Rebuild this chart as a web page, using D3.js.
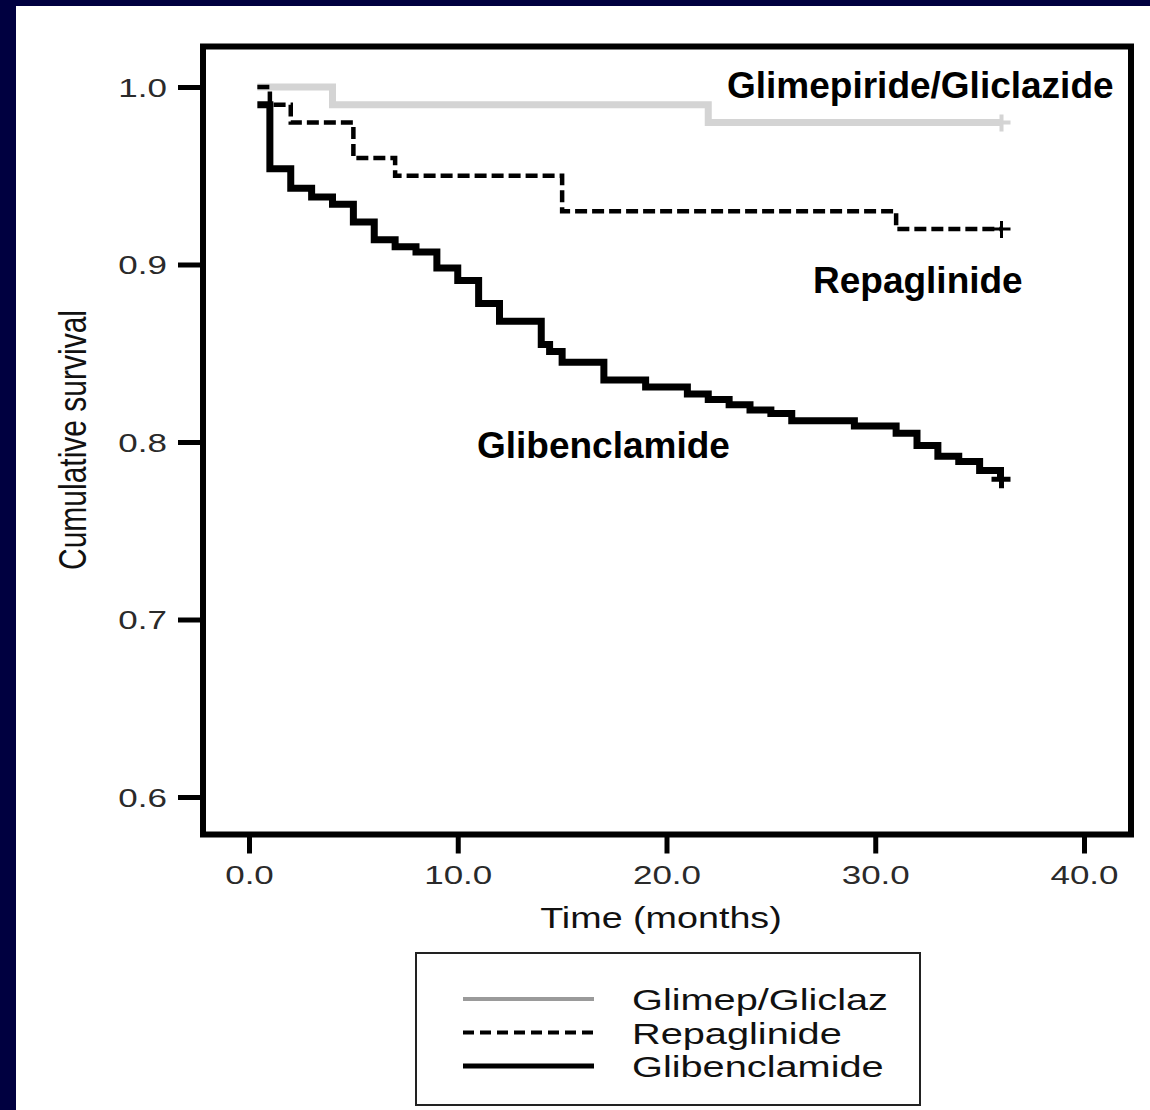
<!DOCTYPE html>
<html>
<head>
<meta charset="utf-8">
<script src="https://cdn.jsdelivr.net/npm/d3@7/dist/d3.min.js"></script>
<style>
  html, body { margin: 0; padding: 0; background: #000040; }
  svg { display: block; }
</style>
</head>
<body>
<svg id="chart" width="1150" height="1110"></svg>
<script>
// Kaplan–Meier survival estimates per treatment group (time in months)
const groups = ["Glimep/Gliclaz", "Repaglinide", "Glibenclamide"];

const glimepTime = [0.4, 4, 22, 36];
const glimepSurv = [1.0, 0.99, 0.98, 0.98];

const repagTime = [0.4, 1, 2, 5, 7, 15, 31, 36];
const repagSurv = [1.0, 0.99, 0.98, 0.96, 0.95, 0.93, 0.92, 0.92];

const glibenTime = [0.4, 1, 2, 3, 4, 5, 6, 7, 8, 9, 10, 11, 12, 14, 14.4, 15, 17,
                    19, 21, 22, 23, 24, 25, 26, 29, 31, 32, 33, 34, 35, 36];
const glibenSurv = [0.99, 0.954, 0.943, 0.938, 0.934, 0.924, 0.914, 0.910, 0.907, 0.898,
                    0.891, 0.878, 0.868, 0.855, 0.851, 0.845, 0.835, 0.831, 0.827, 0.824,
                    0.821, 0.818, 0.816, 0.812, 0.809, 0.805, 0.798, 0.792, 0.789, 0.784, 0.779];

const timeTicks = [0, 10, 20, 30, 40];
const survTicks = [0.6, 0.7, 0.8, 0.9, 1.0];

const curveLabels = ["Glimepiride/Gliclazide", "Repaglinide", "Glibenclamide"];

const svg = d3.select("#chart");

// white slide area
svg.append("rect").attr("x", 16).attr("y", 6).attr("width", 1134).attr("height", 1104).attr("fill", "#ffffff");

const x = d3.scaleLinear().domain([0, 40]).range([249, 1084]);
const y = d3.scaleLinear().domain([0.6, 1.0]).range([797, 87]);

const frame = { left: 203, top: 46.5, right: 1131, bottom: 834.5 };
const FONT = "'Liberation Sans', Arial, Helvetica, sans-serif";
const sx = 1.4; // wide lettering of the plot text

// axes
const yAxis = svg.append("g")
  .attr("transform", `translate(${frame.left},0)`)
  .call(d3.axisLeft(y).tickValues(survTicks).tickSize(25).tickFormat(d3.format(".1f")));
const xAxis = svg.append("g")
  .attr("transform", `translate(0,${frame.bottom})`)
  .call(d3.axisBottom(x).tickValues(timeTicks).tickSize(19).tickFormat(d3.format(".1f")));

[yAxis, xAxis].forEach(g => {
  g.select(".domain").remove();
  g.selectAll(".tick line").attr("stroke", "#000").attr("stroke-width", 5);
  g.selectAll(".tick text")
    .attr("fill", "#2a2a2a")
    .style("font-family", FONT)
    .style("font-size", "25px");
});
yAxis.selectAll(".tick text")
  .attr("x", 0).attr("dy", "0.36em")
  .attr("transform", `translate(-36,0) scale(${sx},1)`);
xAxis.selectAll(".tick text")
  .attr("y", 0).attr("dy", 0)
  .attr("transform", `translate(0,49.5) scale(${sx},1)`);

// frame
svg.append("rect")
  .attr("x", frame.left).attr("y", frame.top)
  .attr("width", frame.right - frame.left).attr("height", frame.bottom - frame.top)
  .attr("fill", "none").attr("stroke", "#000").attr("stroke-width", 6);

// axis titles
svg.append("text")
  .attr("transform", `translate(661,928) scale(1.3,1)`)
  .attr("text-anchor", "middle")
  .style("font-family", FONT).style("font-size", "29px")
  .attr("fill", "#111")
  .text("Time (months)");

svg.append("text")
  .attr("transform", `translate(86,440) scale(1.3,1) rotate(-90)`)
  .attr("text-anchor", "middle")
  .style("font-family", FONT).style("font-size", "30px")
  .attr("fill", "#111")
  .text("Cumulative survival");

// survival curves
const step = d3.line().curve(d3.curveStepAfter).x(d => x(d[0])).y(d => y(d[1]));
const series = [
  { name: groups[0], t: glimepTime, s: glimepSurv, color: "#d4d4d4", width: 7, dash: null, censorW: 4 },
  { name: groups[1], t: repagTime, s: repagSurv, color: "#000", width: 4.5, dash: "12,5", censorW: 3 },
  { name: groups[2], t: glibenTime, s: glibenSurv, color: "#000", width: 7, dash: null, censorW: 5 }
];

series.forEach(sr => {
  const pts = sr.t.map((t, i) => [t, sr.s[i]]);
  svg.append("path")
    .attr("d", step(pts))
    .attr("fill", "none")
    .attr("stroke", sr.color)
    .attr("stroke-width", sr.width)
    .attr("stroke-linejoin", "miter")
    .attr("stroke-dasharray", sr.dash);
  // censoring mark at end of follow-up
  const last = pts[pts.length - 1];
  const cx = x(last[0]), cy = y(last[1]);
  svg.append("path")
    .attr("d", `M${cx - 9},${cy}H${cx + 10}M${cx + 1},${cy - 8}V${cy + 9}`)
    .attr("stroke", sr.color).attr("stroke-width", sr.censorW).attr("fill", "none");
});

// curve labels
const labelPos = [[727, 98], [813, 293], [477, 458]];
curveLabels.forEach((txt, i) => {
  svg.append("text")
    .attr("x", labelPos[i][0]).attr("y", labelPos[i][1])
    .style("font-family", FONT).style("font-size", "37px").style("font-weight", "bold")
    .attr("fill", "#000")
    .text(txt);
});

// legend
const legend = svg.append("g");
legend.append("rect")
  .attr("x", 416).attr("y", 953).attr("width", 504).attr("height", 152)
  .attr("fill", "#fff").attr("stroke", "#222").attr("stroke-width", 2);
const legendStyles = [
  { color: "#9a9a9a", dash: null, width: 4 },
  { color: "#000", dash: "11,6", width: 4 },
  { color: "#000", dash: null, width: 5 }
];
groups.forEach((g, i) => {
  const ly = 999 + i * 33.5;
  legend.append("line")
    .attr("x1", 463).attr("x2", 594).attr("y1", ly).attr("y2", ly)
    .attr("stroke", legendStyles[i].color)
    .attr("stroke-width", legendStyles[i].width)
    .attr("stroke-dasharray", legendStyles[i].dash);
  legend.append("text")
    .attr("transform", `translate(632,${ly + 11}) scale(1.37,1)`)
    .style("font-family", FONT).style("font-size", "29px")
    .attr("fill", "#111")
    .text(g);
});
</script>
</body>
</html>
